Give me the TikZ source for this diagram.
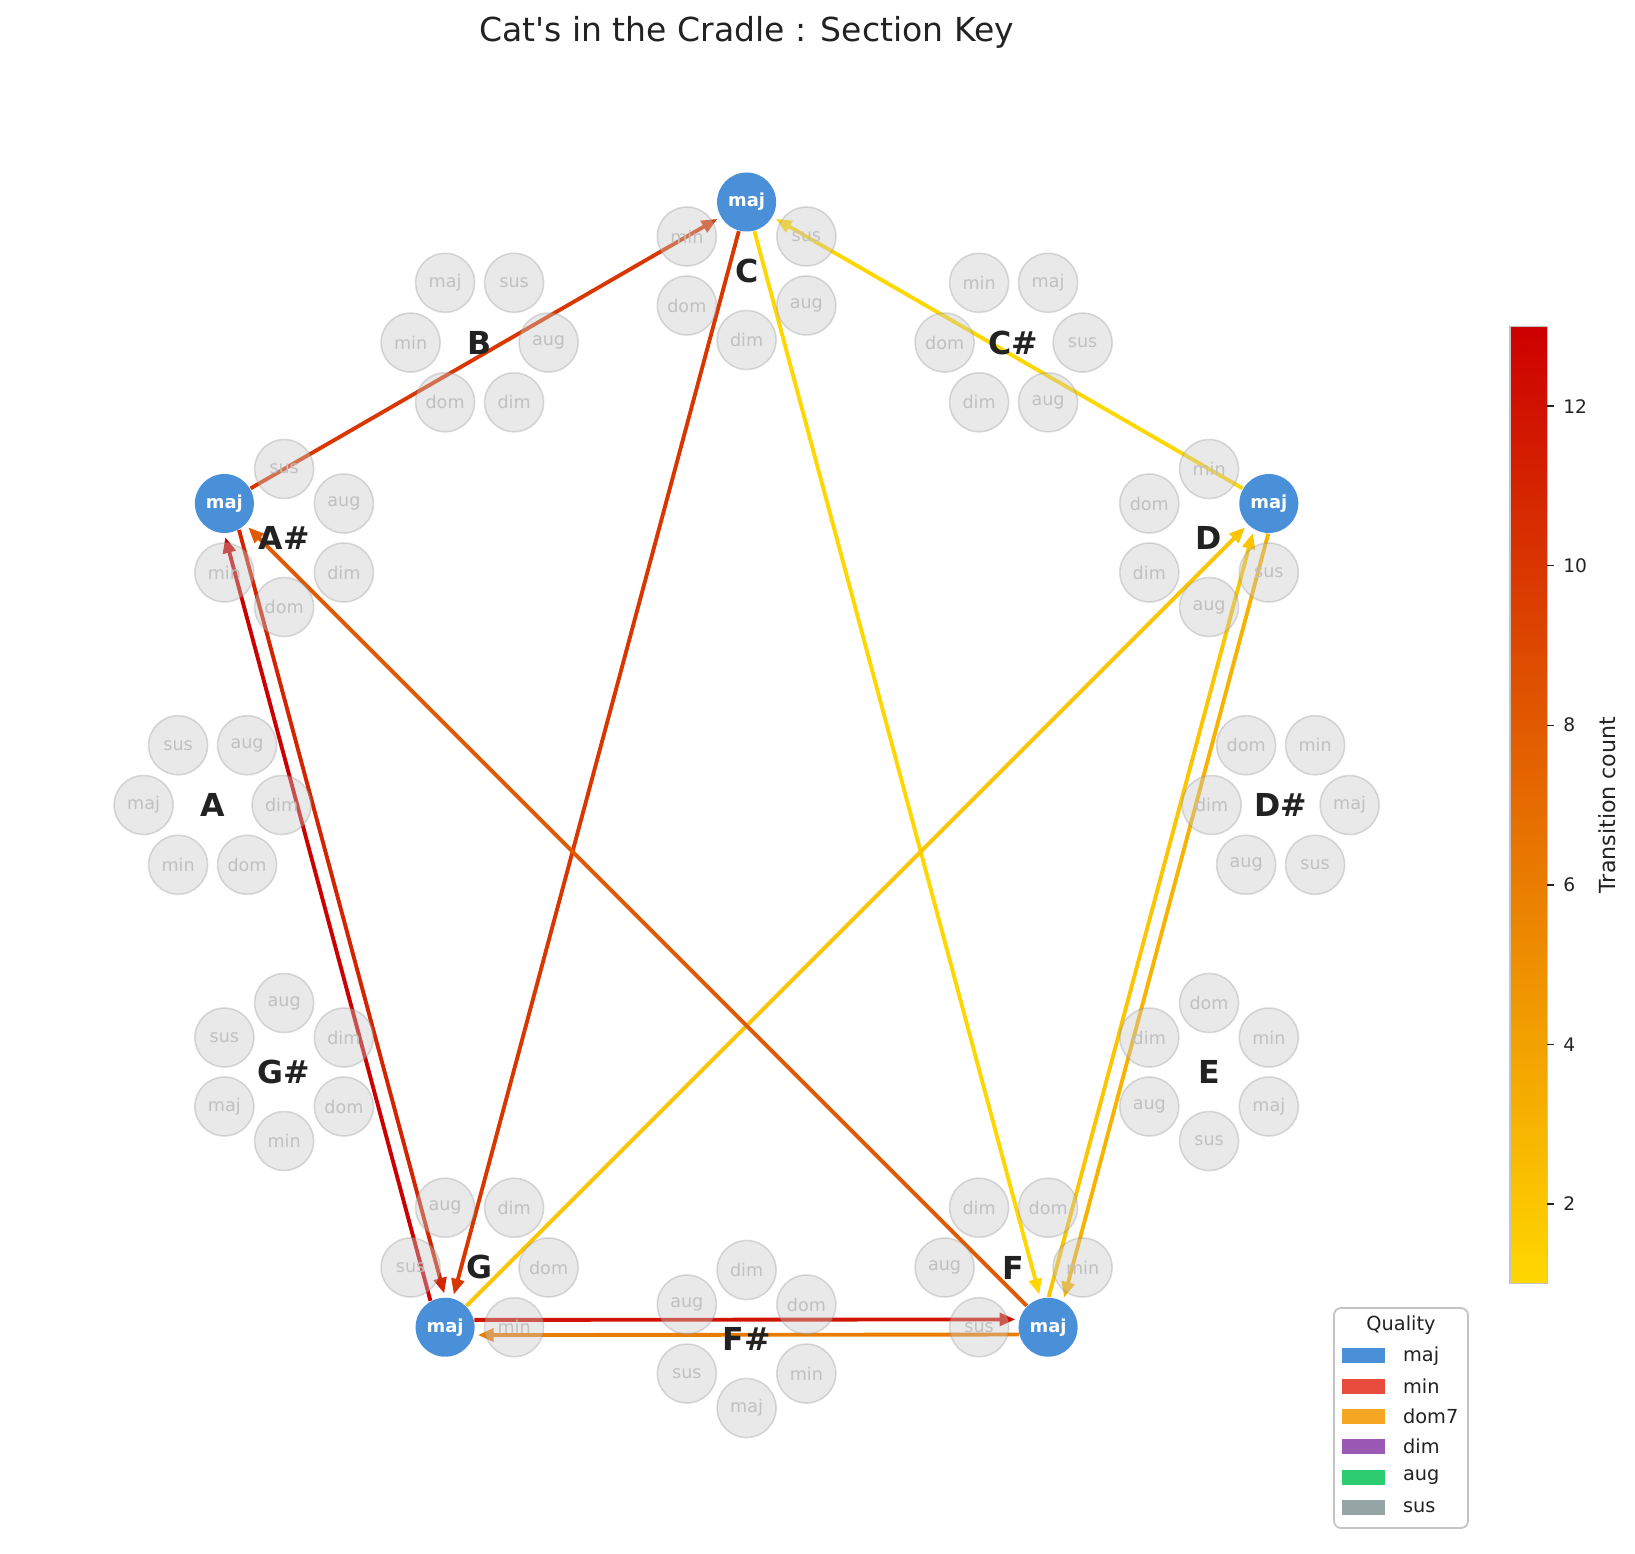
\documentclass[tikz,border=0pt]{standalone}
\usepackage{fontspec}
\setmainfont{DejaVu Sans}
\usetikzlibrary{arrows.meta,positioning}
\definecolor{majblue}{HTML}{4A90D9}
\definecolor{minred}{HTML}{E74C3C}
\definecolor{domorange}{HTML}{F5A623}
\definecolor{dimpurple}{HTML}{9B59B6}
\definecolor{auggreen}{HTML}{2ECC71}
\definecolor{susgrey}{HTML}{95A5A6}
\definecolor{satfill}{HTML}{C8C8C8}
\definecolor{satline}{HTML}{8C8C8C}
\definecolor{sattext}{HTML}{C0C0C0}
\definecolor{keytext}{HTML}{222222}
\definecolor{boxline}{HTML}{C4C4C4}
\definecolor{cbyellow}{HTML}{FFD700}
\definecolor{cbred}{HTML}{CC0000}
\colorlet{cnt1}{cbyellow}
\colorlet{cnt2}{cbred!8.33!cbyellow}
\colorlet{cnt3}{cbred!16.67!cbyellow}
\colorlet{cnt6}{cbred!41.67!cbyellow}
\colorlet{cnt8}{cbred!58.33!cbyellow}
\colorlet{cnt10}{cbred!75!cbyellow}
\colorlet{cnt11}{cbred!83.33!cbyellow}
\colorlet{cnt12}{cbred!91.67!cbyellow}
\colorlet{cnt13}{cbred}
\pgfdeclarelayer{bg}
\pgfsetlayers{bg,main}
\tikzset{
  qual/.style={circle, minimum size=0.59cm, inner sep=0pt, fill=satfill, fill opacity=0.4,
    draw=satline, draw opacity=0.3, line width=0.45pt, text=sattext, text opacity=1,
    font=\fontsize{5}{6}\selectfont},
  actv/.style={circle, minimum size=0.59cm, inner sep=0pt, fill=majblue, text=white,
    font=\fontsize{5.1}{6}\selectfont\bfseries},
  keylab/.style={text=keytext, font=\fontsize{9}{11}\selectfont\bfseries, inner sep=0pt},
  trans/.style={line width=1.1pt, -{Triangle[length=4.5pt,width=3.6pt]}, shorten >=1pt},
  legtxt/.style={text=keytext, font=\fontsize{5.5}{6.6}\selectfont, inner sep=0pt},
  legpatch/.style={minimum width=0.43cm, minimum height=0.15cm, inner sep=0pt},
  ticklab/.style={text=keytext, font=\fontsize{5.3}{6.4}\selectfont, inner sep=0pt, anchor=west}
}
\begin{document}
\begin{tikzpicture}
\useasboundingbox (-7.466,-7.480) rectangle (8.884,8.050);
\node[text=keytext, font=\fontsize{9.4}{11}\selectfont, anchor=base] (title) at (0,7.633) {Cat\textquotesingle s in the Cradle : Section Key};

% C
\begin{scope}[shift={(90:5.34)}]
\node[keylab] (C) at (0,0) {C};
\node[actv] (Cmaj) at (90:0.69) {maj};
\node[qual] (Cmin) at (150:0.69) {min};
\node[qual] (Cdom) at (210:0.69) {dom};
\node[qual] (Cdim) at (270:0.69) {dim};
\node[qual] (Caug) at (330:0.69) {aug};
\node[qual] (Csus) at (30:0.69) {sus};
\end{scope}
% C#
\begin{scope}[shift={(60:5.34)}]
\node[keylab] (Cs) at (0,0) {C\#};
\node[qual] (Csmaj) at (60:0.69) {maj};
\node[qual] (Csmin) at (120:0.69) {min};
\node[qual] (Csdom) at (180:0.69) {dom};
\node[qual] (Csdim) at (240:0.69) {dim};
\node[qual] (Csaug) at (300:0.69) {aug};
\node[qual] (Cssus) at (0:0.69) {sus};
\end{scope}
% D
\begin{scope}[shift={(30:5.34)}]
\node[keylab] (D) at (0,0) {D};
\node[actv] (Dmaj) at (30:0.69) {maj};
\node[qual] (Dmin) at (90:0.69) {min};
\node[qual] (Ddom) at (150:0.69) {dom};
\node[qual] (Ddim) at (210:0.69) {dim};
\node[qual] (Daug) at (270:0.69) {aug};
\node[qual] (Dsus) at (330:0.69) {sus};
\end{scope}
% D#
\begin{scope}[shift={(0:5.34)}]
\node[keylab] (Ds) at (0,0) {D\#};
\node[qual] (Dsmaj) at (0:0.69) {maj};
\node[qual] (Dsmin) at (60:0.69) {min};
\node[qual] (Dsdom) at (120:0.69) {dom};
\node[qual] (Dsdim) at (180:0.69) {dim};
\node[qual] (Dsaug) at (240:0.69) {aug};
\node[qual] (Dssus) at (300:0.69) {sus};
\end{scope}
% E
\begin{scope}[shift={(-30:5.34)}]
\node[keylab] (E) at (0,0) {E};
\node[qual] (Emaj) at (-30:0.69) {maj};
\node[qual] (Emin) at (30:0.69) {min};
\node[qual] (Edom) at (90:0.69) {dom};
\node[qual] (Edim) at (150:0.69) {dim};
\node[qual] (Eaug) at (210:0.69) {aug};
\node[qual] (Esus) at (270:0.69) {sus};
\end{scope}
% F
\begin{scope}[shift={(-60:5.34)}]
\node[keylab] (F) at (0,0) {F};
\node[actv] (Fmaj) at (-60:0.69) {maj};
\node[qual] (Fmin) at (0:0.69) {min};
\node[qual] (Fdom) at (60:0.69) {dom};
\node[qual] (Fdim) at (120:0.69) {dim};
\node[qual] (Faug) at (180:0.69) {aug};
\node[qual] (Fsus) at (240:0.69) {sus};
\end{scope}
% F#
\begin{scope}[shift={(-90:5.34)}]
\node[keylab] (Fs) at (0,0) {F\#};
\node[qual] (Fsmaj) at (-90:0.69) {maj};
\node[qual] (Fsmin) at (-30:0.69) {min};
\node[qual] (Fsdom) at (30:0.69) {dom};
\node[qual] (Fsdim) at (90:0.69) {dim};
\node[qual] (Fsaug) at (150:0.69) {aug};
\node[qual] (Fssus) at (210:0.69) {sus};
\end{scope}
% G
\begin{scope}[shift={(-120:5.34)}]
\node[keylab] (G) at (0,0) {G};
\node[actv] (Gmaj) at (-120:0.69) {maj};
\node[qual] (Gmin) at (-60:0.69) {min};
\node[qual] (Gdom) at (0:0.69) {dom};
\node[qual] (Gdim) at (60:0.69) {dim};
\node[qual] (Gaug) at (120:0.69) {aug};
\node[qual] (Gsus) at (180:0.69) {sus};
\end{scope}
% G#
\begin{scope}[shift={(-150:5.34)}]
\node[keylab] (Gs) at (0,0) {G\#};
\node[qual] (Gsmaj) at (-150:0.69) {maj};
\node[qual] (Gsmin) at (-90:0.69) {min};
\node[qual] (Gsdom) at (-30:0.69) {dom};
\node[qual] (Gsdim) at (30:0.69) {dim};
\node[qual] (Gsaug) at (90:0.69) {aug};
\node[qual] (Gssus) at (150:0.69) {sus};
\end{scope}
% A
\begin{scope}[shift={(180:5.34)}]
\node[keylab] (A) at (0,0) {A};
\node[qual] (Amaj) at (180:0.69) {maj};
\node[qual] (Amin) at (240:0.69) {min};
\node[qual] (Adom) at (300:0.69) {dom};
\node[qual] (Adim) at (0:0.69) {dim};
\node[qual] (Aaug) at (60:0.69) {aug};
\node[qual] (Asus) at (120:0.69) {sus};
\end{scope}
% A#
\begin{scope}[shift={(150:5.34)}]
\node[keylab] (As) at (0,0) {A\#};
\node[actv] (Asmaj) at (150:0.69) {maj};
\node[qual] (Asmin) at (210:0.69) {min};
\node[qual] (Asdom) at (270:0.69) {dom};
\node[qual] (Asdim) at (330:0.69) {dim};
\node[qual] (Asaug) at (30:0.69) {aug};
\node[qual] (Assus) at (90:0.69) {sus};
\end{scope}
% B
\begin{scope}[shift={(120:5.34)}]
\node[keylab] (B) at (0,0) {B};
\node[qual] (Bmaj) at (120:0.69) {maj};
\node[qual] (Bmin) at (180:0.69) {min};
\node[qual] (Bdom) at (240:0.69) {dom};
\node[qual] (Bdim) at (300:0.69) {dim};
\node[qual] (Baug) at (0:0.69) {aug};
\node[qual] (Bsus) at (60:0.69) {sus};
\end{scope}

% transitions, under the circles
\begin{pgfonlayer}{bg}
\draw[trans, cnt10] (Asmaj) -- (Cmaj);
\draw[trans, cnt10] (Cmaj) -- (Gmaj);
\draw[trans, cnt1] (Dmaj) -- (Cmaj);
\draw[trans, cnt1] (Cmaj) -- (Fmaj);
\draw[trans, cnt2] (Gmaj) -- (Dmaj);
\draw[trans, cnt8] (Fmaj) -- (Asmaj);
\draw[trans, cnt3] (Dmaj.269.6) -- (Fmaj.60.4);
\draw[trans, cnt2] (Fmaj.89.6) -- (Dmaj.240.4);
\draw[trans, cnt13] (Gmaj.119.6) -- (Asmaj.270.4);
\draw[trans, cnt11] (Asmaj.299.6) -- (Gmaj.90.4);
\draw[trans, cnt12] (Gmaj.14.6) -- (Fmaj.165.4);
\draw[trans, cnt6] (Fmaj.194.6) -- (Gmaj.345.4);
\end{pgfonlayer}

% colour bar
\shade[bottom color=cbyellow, top color=cbred] (7.632,-4.786) rectangle (8.008,4.786);
\draw[boxline, line width=0.4pt] (7.632,-4.786) rectangle (8.008,4.786);
\draw[keytext, line width=0.4pt] (8.008,-3.988) -- (8.078,-3.988);
\draw[keytext, line width=0.4pt] (8.008,-2.393) -- (8.078,-2.393);
\draw[keytext, line width=0.4pt] (8.008,-0.798) -- (8.078,-0.798);
\draw[keytext, line width=0.4pt] (8.008,0.798) -- (8.078,0.798);
\draw[keytext, line width=0.4pt] (8.008,2.393) -- (8.078,2.393);
\draw[keytext, line width=0.4pt] (8.008,3.988) -- (8.078,3.988);
\node[ticklab] (tick2) at (8.16,-3.988) {2};
\node[ticklab] (tick4) at (8.16,-2.393) {4};
\node[ticklab] (tick6) at (8.16,-0.798) {6};
\node[ticklab] (tick8) at (8.16,0.798) {8};
\node[ticklab] (tick10) at (8.16,2.393) {10};
\node[ticklab] (tick12) at (8.16,3.988) {12};
\node[text=keytext, font=\fontsize{6.3}{7.5}\selectfont, rotate=90] (cblabel) at (8.61,0) {Transition count};

% legend
\node[draw=boxline, fill=white, rounded corners=2pt, line width=0.5pt, minimum width=1.34cm, minimum height=2.2cm, inner sep=0pt] (legbox) at (6.544,-6.13) {};
\node[legtxt] (legtitle) at (6.544,-5.20) {Quality};
\node[legpatch, fill=majblue] (pmaj) at (6.169,-5.507) {};
\node[legpatch, fill=minred] (pmin) at (6.169,-5.813) {};
\node[legpatch, fill=domorange] (pdom) at (6.169,-6.113) {};
\node[legpatch, fill=dimpurple] (pdim) at (6.169,-6.417) {};
\node[legpatch, fill=auggreen] (paug) at (6.169,-6.720) {};
\node[legpatch, fill=susgrey] (psus) at (6.169,-7.027) {};
\node[legtxt, right=0.167cm of pmaj] (lmaj) {maj};
\node[legtxt, right=0.167cm of pmin] (lmin) {min};
\node[legtxt, right=0.167cm of pdom] (ldom) {dom7};
\node[legtxt, right=0.167cm of pdim] (ldim) {dim};
\node[legtxt, right=0.167cm of paug] (laug) {aug};
\node[legtxt, right=0.167cm of psus] (lsus) {sus};
\end{tikzpicture}
\end{document}
